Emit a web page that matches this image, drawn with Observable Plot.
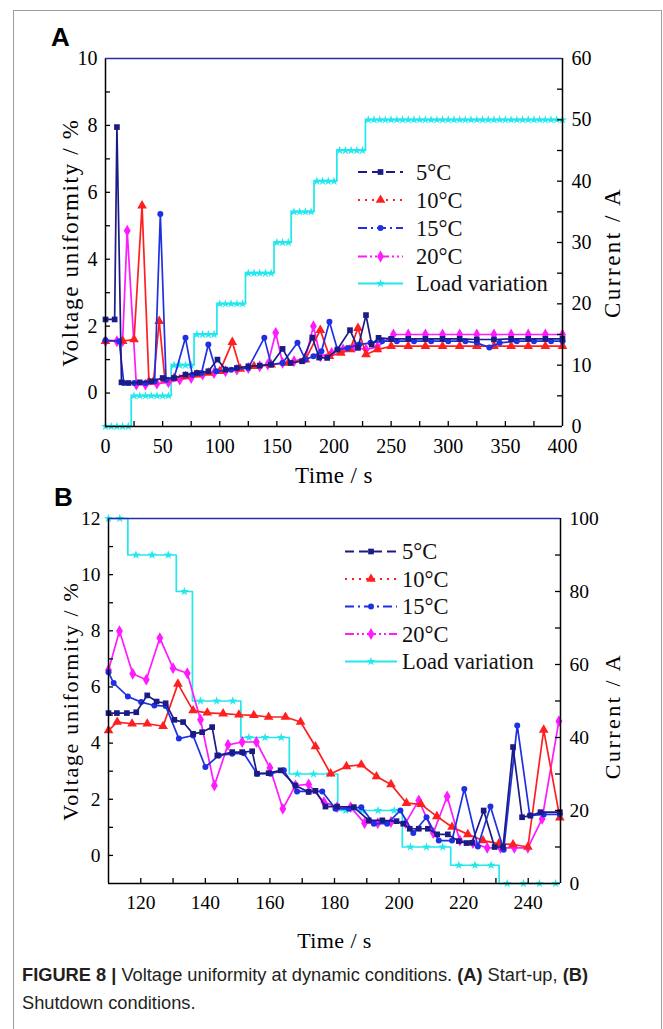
<!DOCTYPE html>
<html><head><meta charset="utf-8">
<script src="https://cdn.jsdelivr.net/npm/d3@7"></script>
<script src="https://cdn.jsdelivr.net/npm/@observablehq/plot@0.6"></script>
<style>
html,body{margin:0;padding:0;background:#fff}
body{width:663px;height:1029px;overflow:hidden;position:relative;font-family:"Liberation Serif","Times New Roman",serif}
#frame{position:absolute;left:13px;top:10px;width:649px;height:1040px;border:1.5px solid #9c9c9c;box-sizing:border-box}
.pl{position:absolute;left:0}
#overlay{position:absolute;left:0;top:0;pointer-events:none}
.cap{position:absolute;left:22px;white-space:nowrap;font:17.5px "Liberation Sans Narrow","Arial Narrow","Liberation Sans",Arial,sans-serif;color:#231f20;transform-origin:0 50%;line-height:28px}
.cap b{font-weight:bold}
</style></head>
<body>
<div id="frame"></div>
<div id="pA" class="pl" style="top:0"></div>
<div id="pB" class="pl" style="top:490px"></div>
<svg id="overlay" width="663" height="1029"></svg>
<div id="cap1" class="cap" style="top:961px"><b>FIGURE 8 |</b> Voltage uniformity at dynamic conditions. <b>(A)</b> Start-up, <b>(B)</b></div>
<div id="cap2" class="cap" style="top:989px">Shutdown conditions.</div>
<script>
// ---------------- DATA ----------------
const seriesNames = ["5°C", "10°C", "15°C", "20°C", "Load variation"];

// Panel A: start-up (time / s, voltage uniformity / %)
const A5_t  = [0, 8, 10, 14, 20, 30, 40, 50, 60, 70, 80, 90, 98, 105, 115, 125, 135, 145, 155, 162, 172, 181, 187, 194, 203, 214, 221, 228, 233, 239, 250, 265, 280, 295, 310, 325, 340, 355, 370, 385, 400];
const A5_v  = [2.2, 2.2, 7.95, 0.32, 0.3, 0.32, 0.35, 0.45, 0.45, 0.55, 0.6, 0.65, 1.0, 0.7, 0.75, 0.8, 0.82, 0.85, 1.32, 0.9, 0.95, 1.66, 1.06, 1.05, 1.3, 1.88, 1.35, 2.33, 1.45, 1.65, 1.62, 1.62, 1.62, 1.62, 1.62, 1.6, 1.6, 1.62, 1.62, 1.62, 1.62];
const A10_t = [0, 15, 25, 32, 38, 42, 47, 52, 60, 70, 80, 90, 100, 111, 118, 130, 145, 160, 175, 188, 196, 206, 214, 221, 228, 238, 250, 265, 280, 295, 310, 325, 340, 355, 370, 385, 400];
const A10_v = [1.55, 1.55, 1.6, 5.6, 0.35, 0.35, 2.15, 0.4, 0.45, 0.5, 0.55, 0.6, 0.65, 1.52, 0.72, 0.8, 0.85, 0.9, 1.0, 1.88, 1.1, 1.2, 1.3, 1.94, 1.15, 1.3, 1.4, 1.4, 1.4, 1.4, 1.4, 1.4, 1.4, 1.4, 1.4, 1.4, 1.4];
const A15_t = [0, 12, 16, 25, 35, 43, 48, 53, 60, 70, 76, 84, 90, 97, 110, 125, 139, 145, 155, 168, 175, 182, 189, 196, 203, 212, 222, 232, 242, 255, 270, 285, 300, 315, 325, 336, 345, 360, 375, 390, 400];
const A15_v = [1.58, 1.55, 0.3, 0.3, 0.3, 0.35, 5.35, 0.4, 0.45, 1.65, 0.55, 0.6, 1.45, 0.65, 0.7, 0.75, 1.65, 0.85, 0.9, 1.5, 1.0, 1.1, 1.25, 2.13, 1.3, 1.35, 1.45, 1.5, 1.55, 1.55, 1.55, 1.55, 1.55, 1.55, 1.5, 1.36, 1.5, 1.55, 1.55, 1.55, 1.55];
const A20_t = [0, 10, 15, 19, 27, 35, 45, 55, 65, 75, 85, 95, 105, 115, 125, 135, 142, 149, 155, 165, 175, 182, 188, 198, 208, 218, 228, 238, 252, 265, 280, 295, 310, 325, 340, 355, 370, 385, 400];
const A20_v = [1.55, 1.55, 1.55, 4.85, 0.25, 0.25, 0.28, 0.32, 0.4, 0.45, 0.55, 0.6, 0.65, 0.7, 0.75, 0.8, 0.85, 1.8, 0.9, 0.95, 1.05, 2.0, 1.1, 1.2, 1.3, 1.38, 1.3, 1.38, 1.75, 1.75, 1.75, 1.75, 1.75, 1.75, 1.75, 1.75, 1.75, 1.75, 1.75];
// load current / A, every 5 s from 0 to 400
const ALoad_t = d3.range(0, 401, 5);
const ALoad_c = [0,0,0,0,0, 5,5,5,5,5,5,5, 10,10,10,10, 15,15,15,15, 20,20,20,20,20, 25,25,25,25,25, 30,30,30, 35,35,35,35, 40,40,40,40, 45,45,45,45,45,
  50,50,50,50,50,50,50,50,50,50,50,50,50,50,50,50,50,50,50,50,50,50,50,50,50,50,50,50,50,50,50,50,50,50,50];

// Panel B: shutdown
const B5_t  = [110, 112.6, 115.7, 118.6, 122, 124.9, 127.7, 130.4, 133.1, 136.2, 139, 142.1, 143.7, 148.3, 151.4, 154.5, 156, 159.6, 163.3, 167.9, 172, 174.1, 177.2, 180.8, 186, 190.6, 194.8, 199.2, 201.3, 203.3, 206.1, 208.9, 211.8, 215.1, 218.5, 220.9, 222.6, 226.2, 229.6, 232.2, 235.3, 238.1, 240.7, 243.8, 249.8];
const B5_v  = [5.07, 5.07, 5.07, 5.1, 5.7, 5.48, 5.42, 4.83, 4.75, 4.33, 4.39, 4.57, 3.56, 3.68, 3.68, 3.71, 2.91, 2.93, 3.03, 2.49, 2.26, 2.3, 1.74, 1.74, 1.72, 1.25, 1.25, 1.22, 1.13, 0.95, 0.95, 0.95, 0.75, 0.75, 0.51, 0.44, 0.45, 1.6, 0.3, 0.3, 3.86, 1.36, 1.42, 1.54, 1.54];
const B10_t = [110, 112.7, 117.3, 122, 126.9, 131.5, 136.2, 140.6, 145.5, 150.4, 155, 159.6, 164.8, 169.5, 174.1, 178.8, 183.7, 188.3, 193, 197.5, 202.3, 206.8, 211.7, 216.4, 221.3, 226, 230.9, 235.3, 239.9, 244.8, 249.8];
const B10_v = [4.45, 4.75, 4.69, 4.69, 4.6, 6.11, 5.16, 5.08, 5.05, 5.01, 4.99, 4.93, 4.93, 4.75, 3.88, 2.91, 3.17, 3.23, 2.81, 2.53, 1.86, 1.82, 1.39, 1.01, 0.75, 0.53, 0.42, 0.39, 0.3, 4.47, 1.34];
const B15_t = [110, 111.6, 116, 120.1, 124.2, 127.7, 131.8, 136.2, 140, 144.2, 148.3, 151.9, 156, 160.2, 164.3, 168.4, 172, 176.2, 180.3, 184.4, 188.3, 192.2, 196.3, 200.4, 204.4, 208.5, 212.3, 216.4, 220.2, 224.4, 228.3, 232.4, 236.6, 240.5, 244.8, 249.8];
const B15_v = [6.52, 6.14, 5.66, 5.46, 5.34, 5.32, 4.16, 4.27, 3.15, 3.56, 3.62, 3.64, 2.91, 2.91, 3.03, 2.28, 2.28, 2.28, 1.66, 1.66, 1.72, 1.13, 1.13, 1.6, 0.8, 1.36, 0.53, 0.53, 2.37, 0.32, 1.74, 0.2, 4.63, 1.42, 1.46, 1.46];
const B20_t = [110, 113.4, 117.5, 121.7, 125.9, 130, 134.4, 138.5, 142.8, 147, 151.4, 155.8, 160, 164, 167.9, 172, 176.7, 180.8, 185, 189.3, 193.4, 197.5, 202, 206.1, 210.6, 214.9, 218.8, 222.9, 227.3, 231.4, 235.7, 239.9, 244.3, 249.5];
const B20_v = [6.6, 7.99, 6.47, 6.26, 7.74, 6.67, 6.49, 4.83, 2.49, 3.94, 4.04, 4.04, 3.12, 1.66, 2.49, 2.53, 1.9, 1.72, 1.72, 1.15, 1.15, 1.19, 1.15, 1.96, 0.8, 2.1, 0.53, 0.44, 0.27, 0.27, 0.27, 0.27, 1.3, 4.78];
const BLoad_t = [110, 113.5, 118.5, 123.5, 128.5, 133.5, 138.5, 143.5, 148.5, 153.5, 158.5, 163.5, 168.5, 173.5, 178.5, 183.5, 188.5, 193.5, 198.5, 203.5, 208.5, 213.5, 218.5, 223.5, 228.5, 233.5, 238.5, 243.5, 248.5];
const BLoad_c = [100, 100, 90, 90, 90, 80, 50, 50, 50, 40, 40, 40, 30, 30, 30, 20, 20, 20, 20, 10, 10, 10, 5, 5, 5, 0, 0, 0, 0];

// tick labels
const A_xTicks = [0, 50, 100, 150, 200, 250, 300, 350, 400];
const A_yTicks = [0, 2, 4, 6, 8, 10];
const A_cTicks = [0, 10, 20, 30, 40, 50, 60];
const B_xTicks = [120, 140, 160, 180, 200, 220, 240];
const B_yTicks = [0, 2, 4, 6, 8, 10, 12];
const B_cTicks = [0, 20, 40, 60, 80, 100];

// ---------------- STYLE ----------------
const NAVY = "#1b1b86", RED = "#ff1f1f", BLUE = "#1f30e2", MAG = "#ff1aff", CYAN = "#22e8ee";
const SER = [
  {color: NAVY, symbol: "square", r: 3.2, dash: "9,5"},
  {color: RED, symbol: "triangle", r: 3.6, dash: "2,5"},
  {color: BLUE, symbol: "circle", r: 3.0, dash: "9,4,2,4"},
  {color: MAG, symbol: "diamond", r: 3.6, dash: "9,3,2,3,2,3"},
  {color: CYAN, symbol: "star", r: 2.8, dash: null}
];
const W = 663;
const FONT = "Liberation Serif, Times New Roman, serif";
const TITLES = {left: "Voltage uniformity / %", right: "Current / A", bottom: "Time / s"};

function zip(t, v) { return t.map((x, i) => ({t: x, v: v[i]})); }

function buildPanel(o) {
  const yR = d3.scaleLinear().domain(o.cDomain).range(o.yDomain);
  const plotW = W - o.ml - o.mr, plotH = o.height - o.mt - o.mb;
  const marks = [];
  const load = zip(o.loadT, o.loadC);
  marks.push(Plot.line(load, {x: "t", y: d => yR(d.v), curve: "step", stroke: CYAN, strokeWidth: 1.7}));
  marks.push(Plot.dot(load, {x: "t", y: d => yR(d.v), symbol: "star", r: 2.8, fill: CYAN}));
  const order = [3, 1, 2, 0];
  for (const k of order) {
    const s = o.series[k], st = SER[k];
    const d = zip(s[0], s[1]);
    marks.push(Plot.line(d, {x: "t", y: "v", stroke: st.color, strokeWidth: 1.7}));
    marks.push(Plot.dot(d, {x: "t", y: "v", symbol: st.symbol, r: st.r, fill: st.color}));
  }
  // frame
  marks.push(Plot.ruleX([o.xDomain[0], o.xDomain[1]], {stroke: "#000", strokeWidth: 1.5}));
  marks.push(Plot.ruleY([o.yDomain[0]], {stroke: "#000", strokeWidth: 1.5}));
  marks.push(Plot.ruleY([o.yDomain[1]], {stroke: "#2b2ba8", strokeWidth: 1.5}));
  // inward ticks
  marks.push(Plot.tickY(o.yMinor, {y: d => d, insetRight: plotW - 5, stroke: "#000", strokeWidth: 1.3}));
  marks.push(Plot.tickY(o.cMinor.map(yR), {y: d => d, insetLeft: plotW - 5, stroke: "#000", strokeWidth: 1.3}));
  marks.push(Plot.tickX(o.xMinor, {x: d => d, insetTop: plotH - 5, stroke: "#000", strokeWidth: 1.3}));
  // tick labels
  marks.push(Plot.axisY({ticks: o.yTicks, anchor: "left", tickSize: 0, tickPadding: 8, label: null, tickFormat: d => d}));
  marks.push(Plot.axisY({ticks: o.cTicks.map(yR), anchor: "right", tickSize: 0, tickPadding: 9, label: null, tickFormat: v => Math.round(yR.invert(v))}));
  marks.push(Plot.axisX({ticks: o.xTicks, anchor: "bottom", tickSize: 0, tickPadding: 12, label: null, tickFormat: d => d}));
  // titles
  marks.push(Plot.text([TITLES.left], {text: d => d, frameAnchor: "left", dx: -o.lt, rotate: -90, textAnchor: "middle", lineAnchor: "middle", fontSize: o.tfs}));
  marks.push(Plot.text([TITLES.right], {text: d => d, frameAnchor: "right", dx: o.rt, dy: o.rdy, rotate: -90, textAnchor: "middle", lineAnchor: "middle", fontSize: o.tfs}));
  marks.push(Plot.text([TITLES.bottom], {text: d => d, frameAnchor: "bottom", dy: o.bt, textAnchor: "middle", lineAnchor: "middle", fontSize: o.tfs}));
  const svg = Plot.plot({
    width: W, height: o.height,
    marginLeft: o.ml, marginRight: o.mr, marginTop: o.mt, marginBottom: o.mb,
    x: {domain: o.xDomain}, y: {domain: o.yDomain},
    style: {fontFamily: FONT, fontSize: o.fs + "px", color: "#000", background: "transparent", overflow: "visible"},
    marks
  });
  const spacing = {[TITLES.left]: o.lsp, [TITLES.right]: o.rsp, [TITLES.bottom]: 0.4};
  d3.select(svg).selectAll("text").each(function() {
    const t = this.textContent;
    if (t in spacing) d3.select(this).style("letter-spacing", spacing[t] + "px");
  });
  return svg;
}

const plotA = buildPanel({
  height: 490, ml: 105, mr: 101, mt: 58, mb: 64,
  xDomain: [0, 400], yDomain: [-1, 10], cDomain: [0, 60],
  xTicks: A_xTicks, yTicks: A_yTicks, cTicks: A_cTicks,
  xMinor: d3.range(25, 400, 25), yMinor: d3.range(0, 10, 1), cMinor: d3.range(5, 60, 5),
  series: [[A5_t, A5_v], [A10_t, A10_v], [A15_t, A15_v], [A20_t, A20_v]],
  loadT: ALoad_t, loadC: ALoad_c, fs: 20, tfs: 23, lt: 35, rt: 50, rdy: 10, bt: 49, lsp: 1.7, rsp: 2.5
});
document.getElementById("pA").appendChild(plotA);

const plotB = buildPanel({
  height: 490, ml: 108, mr: 103, mt: 28, mb: 97,
  xDomain: [110, 250], yDomain: [-1, 12], cDomain: [0, 100],
  xTicks: B_xTicks, yTicks: B_yTicks, cTicks: B_cTicks,
  xMinor: d3.range(120, 250, 10), yMinor: d3.range(0, 12, 1), cMinor: d3.range(10, 100, 10),
  series: [[B5_t, B5_v], [B10_t, B10_v], [B15_t, B15_v], [B20_t, B20_v]],
  loadT: BLoad_t, loadC: BLoad_c, fs: 19.5, tfs: 22, lt: 38, rt: 52, rdy: 15, bt: 57, lsp: 1.7, rsp: 2.5
});
document.getElementById("pB").appendChild(plotB);

// ---------------- OVERLAY: panel letters + legends ----------------
const ov = d3.select("#overlay");
ov.append("text").attr("x", 51).attr("y", 46).text("A")
  .attr("font-family", "Liberation Sans, Arial, sans-serif").attr("font-weight", "bold").attr("font-size", 26).attr("fill", "#000");
ov.append("text").attr("x", 54).attr("y", 506).text("B")
  .attr("font-family", "Liberation Sans, Arial, sans-serif").attr("font-weight", "bold").attr("font-size", 26).attr("fill", "#000");

const symMap = {square: d3.symbolSquare, triangle: d3.symbolTriangle, circle: d3.symbolCircle, diamond: d3.symbolDiamond, star: d3.symbolStar};
function legend(x0, x1, tx, ys, fs) {
  const g = ov.append("g");
  seriesNames.forEach((name, i) => {
    const st = SER[i], y = ys[i];
    g.append("line").attr("x1", x0).attr("x2", x1).attr("y1", y).attr("y2", y)
      .attr("stroke", st.color).attr("stroke-width", 1.8).attr("stroke-dasharray", st.dash);
    g.append("path").attr("d", d3.symbol(symMap[st.symbol], Math.PI * st.r * st.r)())
      .attr("transform", `translate(${(x0 + x1) / 2},${y})`).attr("fill", st.color);
    g.append("text").attr("x", tx).attr("y", y).attr("dy", "0.35em").text(name)
      .attr("font-family", FONT).attr("font-size", fs).attr("fill", "#111");
  });
}
legend(358, 403, 416, [172, 200, 228, 256.5, 283.5], 22.5);
legend(345, 397, 402, [551.5, 579, 606.5, 634, 661.5], 22.5);

// caption fit to the reference line width
const c1 = document.getElementById("cap1"), c2 = document.getElementById("cap2");
const w1 = c1.getBoundingClientRect().width;
const target = 566;
const s = target / w1;
c1.style.transform = `scaleX(${s})`;
c2.style.transform = `scaleX(${s})`;
</script>
</body></html>
